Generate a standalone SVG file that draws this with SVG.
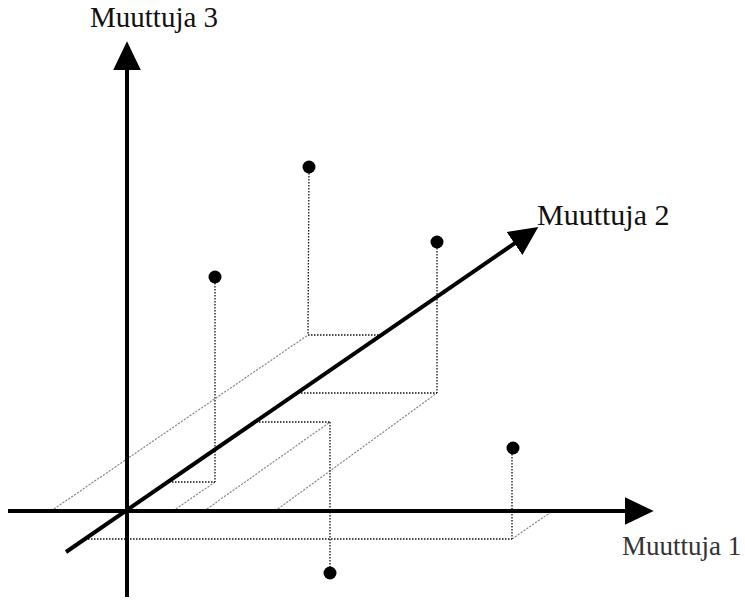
<svg xmlns="http://www.w3.org/2000/svg" width="745" height="601" viewBox="0 0 745 601">
<defs>
<style>
.axis{stroke:#000;stroke-width:4;fill:none;marker-end:url(#arr)}
.drop{stroke:#111;stroke-width:1.3;stroke-dasharray:1.5 1.5;fill:none}
.floor{stroke:#8a8a8a;stroke-width:1.2;stroke-dasharray:2.2 1.3;fill:none}
.pt{fill:#000}
.lbl{font-family:"Liberation Serif","Times New Roman",serif;font-size:30px;fill:#111}
</style>
<marker id="arr" markerUnits="userSpaceOnUse" markerWidth="30" markerHeight="30" viewBox="0 -14 28 28" refX="4" refY="0" orient="auto">
<path d="M0,-13 L27,0 L0,13 Z" fill="#000"/>
</marker>
</defs>
<rect width="745" height="601" fill="#fff"/>
<g id="guides">
<line class="floor" x1="173" y1="511" x2="215" y2="482"/>
<line class="drop" x1="169" y1="482" x2="215" y2="482"/>
<line class="drop" x1="215" y1="277" x2="215" y2="482"/>
<line class="floor" x1="51" y1="511" x2="308" y2="335"/>
<line class="drop" x1="308" y1="335" x2="381" y2="335"/>
<line class="drop" x1="309" y1="167" x2="308" y2="335"/>
<line class="floor" x1="275" y1="511" x2="437" y2="393"/>
<line class="drop" x1="298" y1="393" x2="437" y2="393"/>
<line class="drop" x1="437" y1="242" x2="437" y2="393"/>
<line class="floor" x1="204" y1="511" x2="330" y2="422"/>
<line class="drop" x1="256" y1="422" x2="330" y2="422"/>
<line class="drop" x1="330" y1="422" x2="330" y2="573"/>
<line class="floor" x1="512" y1="539" x2="554" y2="510"/>
<line class="drop" x1="88" y1="539" x2="512" y2="539"/>
<line class="drop" x1="512" y1="448" x2="512" y2="539"/>
</g>
<g id="axes">
<line id="axis1" class="axis" x1="8" y1="511" x2="629" y2="511"/>
<line id="axis3" class="axis" x1="127" y1="597" x2="127" y2="66"/>
<line id="axis2" class="axis" x1="66" y1="552" x2="518" y2="241"/>
</g>
<g id="points">
<circle id="pA" class="pt" cx="215" cy="277" r="6.5"/>
<circle id="pB" class="pt" cx="309" cy="167" r="6.5"/>
<circle id="pD" class="pt" cx="437" cy="242" r="6.5"/>
<circle id="pE" class="pt" cx="513" cy="448" r="6.5"/>
<circle id="pC" class="pt" cx="330" cy="573" r="6.5"/>
</g>
<g id="labels">
<text class="lbl" x="90" y="27" style="font-size:29px">Muuttuja 3</text>
<text class="lbl" x="537" y="225">Muuttuja 2</text>
<text class="lbl" x="622" y="555" style="font-size:27px;fill:#333">Muuttuja 1</text>
</g>
</svg>
